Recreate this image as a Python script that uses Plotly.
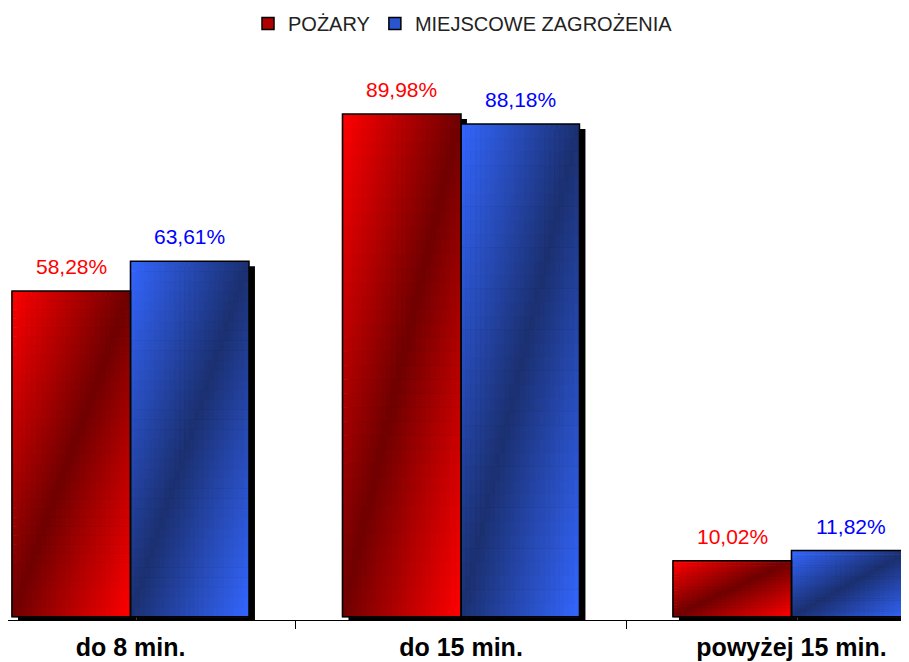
"""Czas dojazdu - POŻARY vs MIEJSCOWE ZAGROŻENIA, bar chart with gradient fill."""

import plotly.graph_objects as go

categories = ['do 8 min.', 'do 15 min.', 'powyżej 15 min.']
pozary = [58.28, 89.98, 10.02]
zagrozenia = [63.61, 88.18, 11.82]
series_names = ['POŻARY', 'MIEJSCOWE ZAGROŻENIA']

FONT = 'Arial, Liberation Sans, sans-serif'

# bar geometry (category units) and gradient resolution
BAR_W = 0.3585
COLS, ROWS = 24, 36
SHADOW_DX = 0.018
SHADOW_DY = 0.9
Y_MIN = -0.6

RED = dict(bright=(255, 0, 0), dark=(112, 0, 0), label='#FF0000', legend='#B00000')
BLUE = dict(bright=(51, 102, 255), dark=(27, 48, 112), label='#0000FF', legend='#2A55D0')


def mix(bright, dark, t):
    return 'rgb(%d,%d,%d)' % tuple(round(d + (b - d) * t) for b, d in zip(bright, dark))


def gradient_trace(values, start, style):
    """Diagonal gradient: dark band from bottom-left to top-right of each bar."""
    xs, ys, bases, offsets, widths, colors = [], [], [], [], [], []
    cw = BAR_W / COLS
    for cat, val in zip(categories, values):
        rh = val / ROWS
        for i in range(COLS):
            u = (i + 0.5) / COLS
            for j in range(ROWS):
                v = (j + 0.5) / ROWS
                xs.append(cat)
                bases.append(j * rh - 0.1)
                ys.append(rh + 0.1)
                offsets.append(start + i * cw - 0.002)
                widths.append(cw + 0.002)
                colors.append(mix(style['bright'], style['dark'], abs(u - v)))
    return go.Bar(
        x=xs, y=ys, base=bases, offset=offsets, width=widths,
        marker=dict(color=colors, line=dict(width=0)),
        showlegend=False, hoverinfo='skip',
    )


series = [
    (series_names[0], pozary, -BAR_W, RED),
    (series_names[1], zagrozenia, 0.0, BLUE),
]

fig = go.Figure()

# drop shadows
for name, values, start, style in series:
    fig.add_trace(go.Bar(
        x=categories,
        y=[v - SHADOW_DY - Y_MIN for v in values],
        base=Y_MIN,
        offset=start + SHADOW_DX,
        width=BAR_W,
        marker=dict(color='black', line=dict(width=0)),
        showlegend=False, hoverinfo='skip',
    ))

# gradient fills
for name, values, start, style in series:
    fig.add_trace(gradient_trace(values, start, style))

# outlines
for name, values, start, style in series:
    fig.add_trace(go.Bar(
        x=categories, y=values, offset=start, width=BAR_W, name=name,
        marker=dict(color='rgba(0,0,0,0)', line=dict(color='black', width=1.5)),
        showlegend=False,
        hovertemplate='%{x}: %{y:.2f}%<extra>' + name + '</extra>',
    ))

# legend entries
for name, values, start, style in series:
    fig.add_trace(go.Bar(
        x=[None], y=[None], name=name,
        marker=dict(color=style['legend'], line=dict(color='black', width=1.5)),
    ))

annotations = []
for name, values, start, style in series:
    for i, v in enumerate(values):
        annotations.append(dict(
            x=i + start + BAR_W / 2, y=v, xref='x', yref='y',
            text=f'{v:.2f}'.replace('.', ',') + '%',
            showarrow=False, yanchor='bottom', yshift=11,
            font=dict(family=FONT, size=21, color=style['label']),
        ))

fig.update_layout(
    width=901,
    height=654,
    barmode='overlay',
    paper_bgcolor='white',
    plot_bgcolor='white',
    font=dict(family=FONT, color='black'),
    margin=dict(l=0, r=0, t=50, b=42, autoexpand=False),
    annotations=annotations,
    legend=dict(
        orientation='h', x=0.505, xanchor='center', y=1.096, yanchor='top',
        font=dict(family=FONT, size=20, color='#222222'),
    ),
    xaxis=dict(
        type='category',
        categoryorder='array', categoryarray=categories,
        range=[-0.3707, 2.3555],
        showline=True, linecolor='black', linewidth=1,
        showgrid=False, zeroline=False,
        ticks='outside', tickson='boundaries', ticklen=8, tickcolor='black',
        ticklabelstandoff=5,
        tickfont=dict(family=FONT, size=25, color='black', weight='bold'),
    ),
    yaxis=dict(visible=False, range=[Y_MIN, 100], fixedrange=True),
)

fig.write_html('out.html')
